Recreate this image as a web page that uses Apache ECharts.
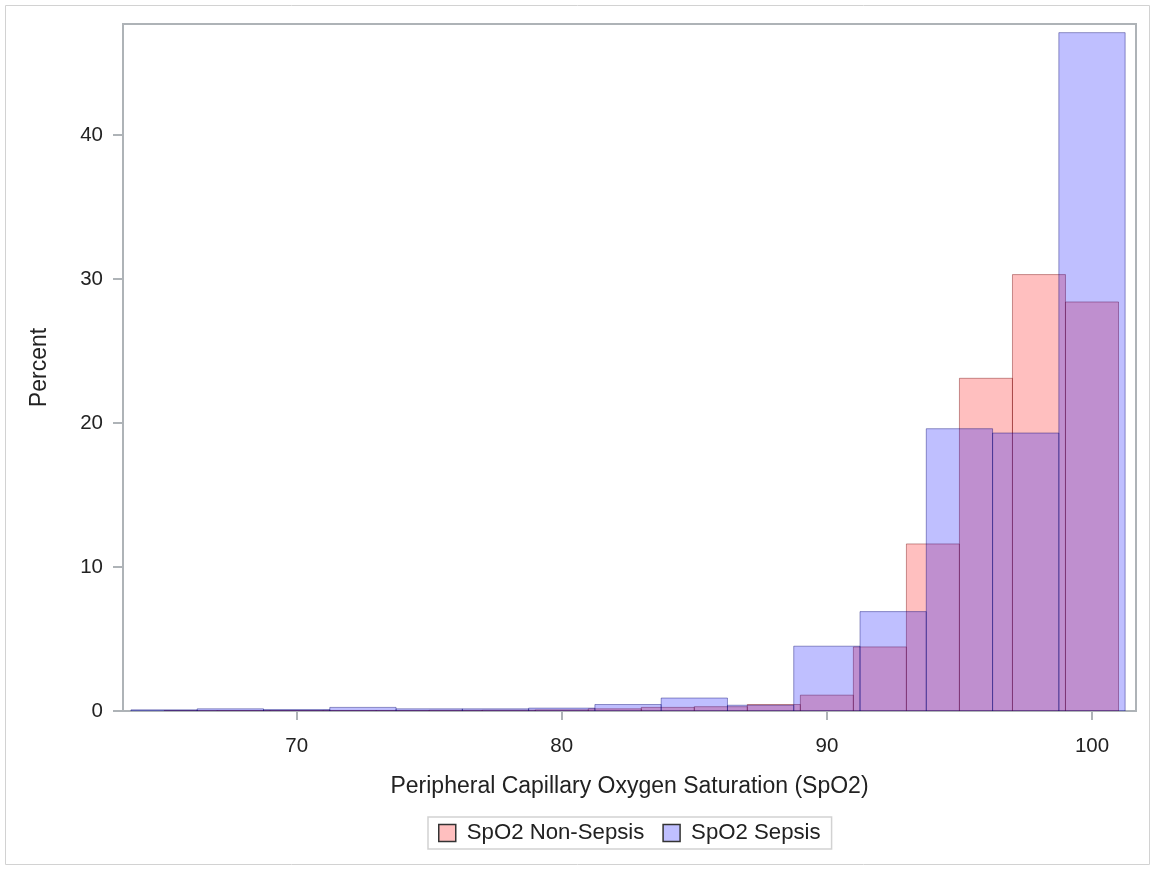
<!DOCTYPE html>
<html>
<head>
<meta charset="utf-8">
<title>SpO2 Histogram</title>
<script src="https://cdn.jsdelivr.net/npm/echarts@6/dist/echarts.min.js"></script>
<style>
  html, body { margin: 0; padding: 0; background: #ffffff; }
  #chart { width: 1155px; height: 869px; }
</style>
</head>
<body>
<div id="chart"></div>
<script>
// Histogram bin midpoints (SpO2, %) and bin widths for each group
const nonSepsisMid = [66, 68, 70, 72, 74, 76, 78, 80, 82, 84, 86, 88, 90, 92, 94, 96, 98, 100];
const nonSepsisPct = [0.02, 0.03, 0.03, 0.04, 0.04, 0.05, 0.06, 0.08, 0.15, 0.25, 0.3, 0.45, 1.1, 4.45, 11.6, 23.1, 30.3, 28.4];
const nonSepsisBinWidth = 2;

const sepsisMid = [65, 67.5, 70, 72.5, 75, 77.5, 80, 82.5, 85, 87.5, 90, 92.5, 95, 97.5, 100];
const sepsisPct = [0.08, 0.15, 0.1, 0.25, 0.15, 0.15, 0.2, 0.45, 0.9, 0.4, 4.5, 6.9, 19.6, 19.3, 47.1];
const sepsisBinWidth = 2.5;

const xTicks = [70, 80, 90, 100];
const yTicks = [0, 10, 20, 30, 40];

const FONT = '"Liberation Sans", Arial, sans-serif';
const TEXT = '#222222';
const FRAME = '#aeb3b7';

function histSeries(name, mids, pcts, width, fill, stroke) {
  return {
    name: name,
    type: 'custom',
    clip: true,
    data: mids.map((m, i) => [m, pcts[i]]),
    encode: { x: 0, y: 1 },
    itemStyle: { color: fill },
    renderItem: function (params, api) {
      const mid = api.value(0);
      const pct = api.value(1);
      const p0 = api.coord([mid - width / 2, 0]);
      const p1 = api.coord([mid + width / 2, pct]);
      return {
        type: 'rect',
        shape: { x: p0[0], y: p1[1], width: p1[0] - p0[0], height: p0[1] - p1[1] },
        style: { fill: fill, stroke: stroke, lineWidth: 1 }
      };
    }
  };
}

const chart = echarts.init(document.getElementById('chart'), null, { renderer: 'canvas' });

chart.setOption({
  animation: false,
  backgroundColor: '#ffffff',
  textStyle: { fontFamily: FONT, color: TEXT },
  graphic: [{
    type: 'rect',
    shape: { x: 5.5, y: 5.5, width: 1144, height: 859 },
    style: { fill: 'none', stroke: '#d2d2d2', lineWidth: 1 },
    silent: true,
    z: -1
  }],
  grid: {
    left: 123, top: 24, right: 19, bottom: 158,
    show: true, borderColor: FRAME, borderWidth: 2, backgroundColor: 'transparent'
  },
  xAxis: {
    type: 'value',
    min: 63.45, max: 101.66,
    name: 'Peripheral Capillary Oxygen Saturation (SpO2)',
    nameLocation: 'middle',
    nameGap: 64,
    nameTextStyle: { fontFamily: FONT, fontSize: 23, color: TEXT },
    axisLine: { show: false },
    axisTick: { show: true, customValues: xTicks, length: 9, lineStyle: { color: FRAME, width: 2 } },
    axisLabel: { customValues: xTicks, margin: 25, fontFamily: FONT, fontSize: 20.5, color: TEXT },
    splitLine: { show: false }
  },
  yAxis: {
    type: 'value',
    min: 0, max: 47.7,
    name: 'Percent',
    nameLocation: 'middle',
    nameRotate: 90,
    nameGap: 72,
    nameTextStyle: { fontFamily: FONT, fontSize: 23, color: TEXT },
    axisLine: { show: false },
    axisTick: { show: true, customValues: yTicks, length: 10, lineStyle: { color: FRAME, width: 2 } },
    axisLabel: { customValues: yTicks, margin: 20, fontFamily: FONT, fontSize: 20.5, color: TEXT },
    splitLine: { show: false }
  },
  legend: {
    left: 428, top: 817,
    orient: 'horizontal',
    padding: [5, 11, 5, 10],
    borderColor: '#d2d2d2', borderWidth: 1.5,
    itemWidth: 17, itemHeight: 17,
    itemGap: 18,
    textStyle: { fontFamily: FONT, fontSize: 22.2, color: TEXT, padding: [0, 0, 0, 6] },
    data: [
      { name: 'SpO2 Non-Sepsis', icon: 'rect', itemStyle: { color: '#ffbfbf', borderColor: '#333333', borderWidth: 1.5 } },
      { name: 'SpO2 Sepsis', icon: 'rect', itemStyle: { color: '#bfbfff', borderColor: '#333333', borderWidth: 1.5 } }
    ]
  },
  series: [
    histSeries('SpO2 Non-Sepsis', nonSepsisMid, nonSepsisPct, nonSepsisBinWidth,
      'rgba(255,0,0,0.25)', 'rgba(110,0,0,0.4)'),
    histSeries('SpO2 Sepsis', sepsisMid, sepsisPct, sepsisBinWidth,
      'rgba(0,0,255,0.25)', 'rgba(0,0,110,0.4)')
  ]
});
</script>
</body>
</html>
